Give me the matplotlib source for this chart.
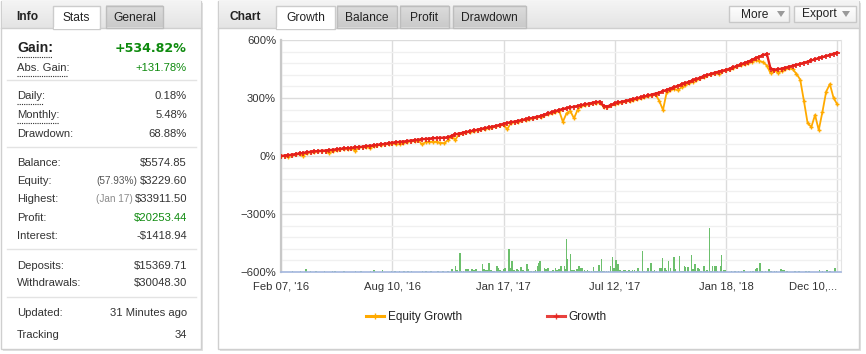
import matplotlib
matplotlib.use("Agg")
import matplotlib.pyplot as plt
import numpy as np
from matplotlib.patches import Rectangle, Polygon
from matplotlib.colors import LinearSegmentedColormap
from matplotlib.lines import Line2D

# ---------------- data ----------------
x_labels = ["Feb 07, '16", "Aug 10, '16", "Jan 17, '17", "Jul 12, '17", "Jan 18, '18", "Dec 10,..."]
y_ticks = [-600, -300, 0, 300, 600]

growth = [0, 2, 4, 7, 10, 13, 16, 19, 22, 24,
          25, 27, 28, 30, 32, 35, 37, 39, 40, 42,
          44, 46, 48, 51, 53, 55, 58, 60, 63, 66,
          69, 71, 73, 75, 77, 80, 82, 84, 87, 88,
          90, 92, 93, 94, 95, 96, 105, 112, 116, 120,
          124, 128, 132, 136, 140, 144, 148, 152, 156, 161,
          167, 171, 175, 178, 182, 186, 190, 194, 198, 203,
          207, 214, 220, 226, 232, 238, 243, 247, 251, 255,
          259, 263, 267, 271, 275, 278, 281, 258, 256, 264,
          272, 277, 281, 286, 290, 295, 299, 303, 308, 313,
          318, 323, 328, 335, 342, 349, 356, 363, 370, 377,
          384, 391, 398, 405, 413, 419, 425, 431, 436, 441,
          445, 452, 459, 466, 474, 481, 488, 497, 506, 514,
          522, 528, 452, 447, 448, 452, 457, 462, 467, 472,
          477, 482, 488, 494, 500, 506, 511, 517, 523, 529,
          535]

equity = [0, 2, -3, 6, 8, 10, 2, 17, 20, 22,
          24, 26, 27, 14, 28, 33, 35, 37, 38, 40,
          26, 44, 46, 49, 40, 54, 56, 59, 62, 64,
          66, 60, 62, 68, 74, 78, 80, 82, 60, 72,
          74, 74, 74, 68, 66, 82, 100, 84, 112, 118,
          122, 126, 130, 134, 138, 142, 146, 150, 154, 158,
          162, 138, 172, 176, 178, 184, 188, 192, 196, 200,
          204, 210, 216, 222, 228, 234, 177, 221, 233, 195,
          240, 258, 264, 268, 272, 276, 276, 254, 254, 262,
          270, 272, 278, 282, 286, 292, 294, 300, 304, 310,
          314, 318, 285, 238, 330, 340, 348, 340, 355, 365,
          378, 385, 394, 402, 410, 417, 422, 428, 424, 438,
          443, 450, 457, 464, 470, 476, 480, 488, 495, 492,
          485, 468, 428, 445, 430, 440, 450, 454, 448, 425,
          395, 285, 170, 150, 212, 134, 229, 333, 372, 300,
          267]

bar_pos = [3.1, 5.3, 6.8, 8.0, 9.5, 11.7, 13.9, 14.5, 17.0, 20.1, 21.6, 24.1, 25.1, 27.4,
           29.8, 30.8, 31.9, 33.1, 34.3, 35.2, 38.1, 39.1, 40.5, 42.4, 43.7, 45.1,
           46.1, 47.0, 47.4, 48.2, 48.7, 49.2, 49.7, 50.2, 50.6, 50.9, 51.5, 52.1, 52.6, 53.1, 53.7,
           54.3, 54.7, 55.2, 55.6, 56.1, 56.6, 57.0, 57.5, 58.2, 58.6, 59.1, 59.6, 60.0, 60.4,
           61.5, 61.9, 62.3, 62.8, 63.3, 63.6, 64.0, 64.7, 65.2, 65.7, 66.3, 66.7, 67.2, 67.6,
           68.2, 68.6, 69.2, 69.6, 69.9, 70.5, 71.0, 71.5, 72.0, 72.5, 73.0, 73.4, 74.0, 74.4,
           74.9, 75.5, 75.9, 76.4, 76.6, 77.0, 77.3, 78.1, 78.5, 79.0, 79.5, 79.8, 80.3, 80.8,
           81.2, 81.8, 82.3, 82.7, 83.1, 83.7, 84.3, 84.7, 85.2, 85.7, 86.1, 86.4, 86.8, 87.2,
           87.8, 88.3, 88.9, 89.4, 89.8, 90.4, 90.9, 91.4, 91.9, 92.4, 92.8, 93.3, 93.8, 94.3,
           94.8, 95.3, 95.8, 96.2, 96.7, 97.5, 97.9, 98.5, 98.9, 99.8, 100.3, 100.7, 101.2,
           102.2, 102.5, 102.9, 103.5, 104.0, 104.5, 105.0, 106.0, 106.4, 107.5, 107.9, 108.4,
           108.8, 109.1, 109.8, 110.7, 111.1, 111.6, 112.0, 112.4, 112.8, 113.2, 114.0, 114.4,
           114.9, 115.5, 115.9, 116.3, 116.9, 117.3, 117.7, 118.5, 118.8, 119.4, 119.8,
           121.5, 122.4, 123.4, 124.2, 124.8, 126.6, 127.3, 128.0, 128.3, 129.2, 129.7, 130.7,
           131.6, 132.1, 133.1, 133.6, 134.8, 135.3, 135.7, 136.5, 138.6, 139.6, 141.5, 142.3,
           145.2, 146.0, 147.2, 148.1, 149.4]
bar_vals = [4, 7, 14, 4, 4, 4, 4, 4, 4, 5, 4, 4, 9, 10,
            4, 4, 4, 4, 4, 4, 4, 4, 4, 4, 4, 4,
            14, 33, 11, 97, 7, 5, 14, 18, 18, 5, 18, 12, 14, 5, 5,
            39, 14, 11, 12, 49, 9, 5, 5, 33, 23, 11, 5, 14, 23,
            118, 21, 56, 11, 5, 14, 11, 28, 9, 5, 39, 14, 5, 5,
            5, 9, 32, 48, 56, 5, 23, 18, 23, 5, 5, 9, 21, 9,
            14, 33, 5, 30, 18, 171, 65, 92, 11, 12, 5, 18, 33, 23,
            19, 11, 5, 12, 7, 7, 28, 5, 5, 35, 5, 67, 5, 5,
            5, 5, 30, 78, 21, 60, 39, 12, 5, 12, 11, 5, 11, 5,
            11, 12, 5, 21, 5, 109, 5, 5, 19, 49, 5, 11, 5,
            23, 19, 72, 23, 12, 56, 21, 76, 18, 83, 5, 5,
            32, 25, 28, 88, 14, 39, 5, 21, 18, 5, 33, 5,
            11, 226, 5, 32, 33, 33, 5, 30, 88, 9, 9,
            4, 4, 4, 4, 9, 4, 4, 14, 21, 46, 4, 4,
            18, 4, 4, 4, 18, 11, 12, 4, 4, 4, 4, 4,
            9, 5, 12, 4, 21]

info_labels = ["Gain:", "Abs. Gain:", "Daily:", "Monthly:", "Drawdown:", "Balance:", "Equity:",
               "Highest:", "Profit:", "Interest:", "Deposits:", "Withdrawals:", "Updated:", "Tracking"]
info_values = ["+534.82%", "+131.78%", "0.18%", "5.48%", "68.88%", "$5574.85", "$3229.60",
               "$33911.50", "$20253.44", "-$1418.94", "$15369.71", "$30048.30", "31 Minutes ago", "34"]
info_notes = {"Equity:": "(57.93%)", "Highest:": "(Jan 17)"}
chart_tabs = ["Growth", "Balance", "Profit", "Drawdown"]
info_tabs = ["Stats", "General"]
series_names = ["Equity Growth", "Growth"]

# ---------------- figure ----------------
W, H = 866, 354
fig = plt.figure(figsize=(W / 100, H / 100), dpi=100)
fig.patch.set_facecolor("white")
bg = fig.add_axes([0, 0, 1, 1])
bg.axis("off")
bg.set_zorder(0)
bg.set_xlim(0, W)
bg.set_ylim(H, 0)

FONT = "Liberation Sans"
TXT = "#333333"
GREEN = "#0E8A0E"


def pt(p):
    return p * 0.72


def grad(x0, y0, x1, y1, ctop, cbot, z=1):
    cmap = LinearSegmentedColormap.from_list("g", [ctop, cbot])
    arr = np.linspace(0, 1, 64)[:, None]
    bg.imshow(arr, cmap=cmap, extent=[x0, x1, y1, y0], aspect="auto", zorder=z,
              interpolation="bilinear", origin="upper")
    bg.set_xlim(0, W)
    bg.set_ylim(H, 0)


def rect(x0, y0, x1, y1, fc="none", ec="none", lw=1, z=1):
    bg.add_patch(Rectangle((x0, y0), x1 - x0, y1 - y0, facecolor=fc, edgecolor=ec, lw=lw, zorder=z))


def panel(x0, y0, x1, y1):
    rect(x0 + 2, y0 + 2, x1 + 2, y1 + 2, fc="#E2E2E2", z=0.5)
    rect(x0, y0, x1, y1, fc="white", ec="#CFCFCF", lw=1, z=1)
    grad(x0 + 0.5, y0 + 0.5, x1 - 0.5, 28, "#F4F4F4", "#E4E4E4", z=1.2)
    bg.plot([x0, x1], [28, 28], color="#CFCFCF", lw=1, zorder=1.3)


def tab(x0, x1, text, active, cx=None):
    if active:
        rect(x0, 6, x1, 28.6, fc="white", ec="#CCCCCC", lw=1, z=1.4)
        rect(x0 + 0.6, 27, x1 - 0.6, 29.2, fc="white", z=1.45)
    else:
        grad(x0, 6, x1, 27.5, "#DDDDDD", "#CACACA", z=1.4)
        rect(x0, 6, x1, 27.5, ec="#BDBDBD", lw=1, z=1.42)
    bg.text((x0 + x1) / 2 if cx is None else cx, 18, text, fontsize=pt(12), family=FONT,
            color="#222222", ha="center", va="center", zorder=1.5)


# left panel
panel(1, 1, 201, 349)
bg.text(16, 17, "Info", fontsize=pt(12), family=FONT, weight="bold", color="#222222",
        va="center", ha="left", zorder=1.5)
tab(53, 100, info_tabs[0], True)
tab(106, 163, info_tabs[1], False)

row_y = [48, 68, 96, 115, 134, 163, 181, 199, 218, 236, 266, 283, 313, 335]
for yv in [80, 147, 249, 297]:
    bg.plot([7, 196], [yv, yv], color="#E3E3E3", lw=1, zorder=1.5)

bg.set_xlim(0, W)
bg.set_ylim(H, 0)
fig.canvas.draw()
renderer = fig.canvas.get_renderer()
for i, (lab, val, yv) in enumerate(zip(info_labels, info_values, row_y)):
    if i == 0:
        bg.text(17, yv, lab, fontsize=pt(14), family=FONT, weight="bold", color="#222222",
                va="center", ha="left", zorder=2)
        bg.text(187, yv, val, fontsize=pt(12.6), family="DejaVu Sans", weight="bold", color=GREEN,
                va="center", ha="right", zorder=2)
        continue
    col = GREEN if lab in ("Abs. Gain:", "Profit:") else TXT
    bg.text(17, yv, lab, fontsize=pt(11.2), family=FONT, color=TXT, va="center", ha="left", zorder=2)
    t = bg.text(187, yv, val, fontsize=pt(11.2), family=FONT, color=col, va="center", ha="right", zorder=2)
    if lab in info_notes:
        bb = t.get_window_extent(renderer)
        left_data = bg.transData.inverted().transform((bb.x0, bb.y0))[0]
        bg.text(left_data - 2, yv + 0.5, info_notes[lab], fontsize=pt(10), family=FONT,
                color="#555555" if lab == "Equity:" else "#8A8A8A", va="center", ha="right", zorder=2)

# dotted underlines
for (x0, x1, yv) in [(17, 52, 57), (17, 67, 75.5), (17, 43, 104), (17, 59, 123)]:
    bg.plot([x0, x1], [yv, yv], color="#333333", lw=0.8, ls=(0, (1, 1)), zorder=2)

# right panel
panel(218, 1, 859, 349)
bg.text(230, 17, "Chart", fontsize=pt(12), family=FONT, weight="bold", color="#222222",
        va="center", ha="left", zorder=1.5)
tab_x = [(276, 335), (337, 397), (400, 449), (453, 526)]
for k, (name, (a, b)) in enumerate(zip(chart_tabs, tab_x)):
    tab(a, b, name, k == 0)

for (a, b, label, tx, trx) in [(729, 789, "More", 755, 781), (794, 856, "Export", 819, 846)]:
    grad(a, 6, b, 22, "#FFFFFF", "#F0F0F0", z=1.4)
    rect(a, 6, b, 22, ec="#C8C8C8", lw=1, z=1.45)
    bg.text(tx, 14.5, label, fontsize=pt(12), family=FONT, color="#222222", va="center", ha="center", zorder=1.5)
    bg.add_patch(Polygon([[trx - 4, 11], [trx + 4, 11], [trx, 17]], closed=True, facecolor="#9A9A9A",
                         edgecolor="none", zorder=1.5))

bg.set_xlim(0, W)
bg.set_ylim(H, 0)

# ---------------- chart axes ----------------
ax = fig.add_axes([281 / W, (H - 272) / H, 560 / W, 232 / H])
ax.set_zorder(3)
ax.set_facecolor("white")
n = len(growth)
xs = np.arange(n)
ax.set_xlim(0, 151)
ax.set_ylim(-600, 600)

ax.bar(bar_pos, bar_vals, bottom=-600, width=0.42, color="#6CBF6C", linewidth=0, zorder=2)
ax.plot(xs, equity, color="#FFAA00", lw=1.3, marker="+", ms=3.2, mew=1.0, zorder=3,
        label=series_names[0])
ax.plot(xs, growth, color="#E5201B", lw=1.7, marker="+", ms=3.6, mew=1.2, zorder=4,
        label=series_names[1])

ax.set_yticks(y_ticks)
ax.set_yticklabels([("\u2212" if v < 0 else "") + f"{abs(v)}%" for v in y_ticks])
ax.set_yticks(np.arange(-600, 601, 60), minor=True)
ax.set_xticks(np.arange(0, 151, 30))
ax.set_xticklabels(x_labels)
xl = ax.get_xticklabels()
xl[-1].set_horizontalalignment("right")
ax.grid(which="major", axis="y", color="#DCDCDC", lw=1, zorder=0)
ax.grid(which="minor", axis="y", color="#F0F0F0", lw=1, zorder=0)
ax.grid(which="major", axis="x", color="#DCDCDC", lw=1, zorder=0)
ax.set_axisbelow(True)
ax.tick_params(which="both", length=0)
ax.tick_params(axis="y", pad=3.6, labelsize=pt(11.2), labelcolor=TXT)
ax.tick_params(axis="x", pad=7, labelsize=pt(11.2), labelcolor=TXT)
for lab in ax.get_xticklabels() + ax.get_yticklabels():
    lab.set_family(FONT)
ax.spines["top"].set_visible(False)
ax.spines["right"].set_color("#E4E4E4")
ax.spines["left"].set_color("#C8C8C8")
ax.spines["left"].set_linewidth(1.6)
ax.spines["bottom"].set_color("#A3B6DE")
ax.spines["bottom"].set_linewidth(1.2)
ax.spines["bottom"].set_zorder(5)

handles = [Line2D([], [], color="#FFAA00", lw=2.2, marker="+", ms=4, mew=1),
           Line2D([], [], color="#E5201B", lw=2.2, alpha=0.85, marker="+", ms=4, mew=1)]
fig.legend(handles, series_names, loc="center left", bbox_to_anchor=(366 / W, 1 - 317 / H),
           ncol=2, frameon=False, borderpad=0, borderaxespad=0, handlelength=1.5,
           handletextpad=0.35, columnspacing=7.2, prop={"family": FONT, "size": pt(11.8)},
           labelcolor="#222222")

fig.savefig("out.png", dpi=100, facecolor="white")
